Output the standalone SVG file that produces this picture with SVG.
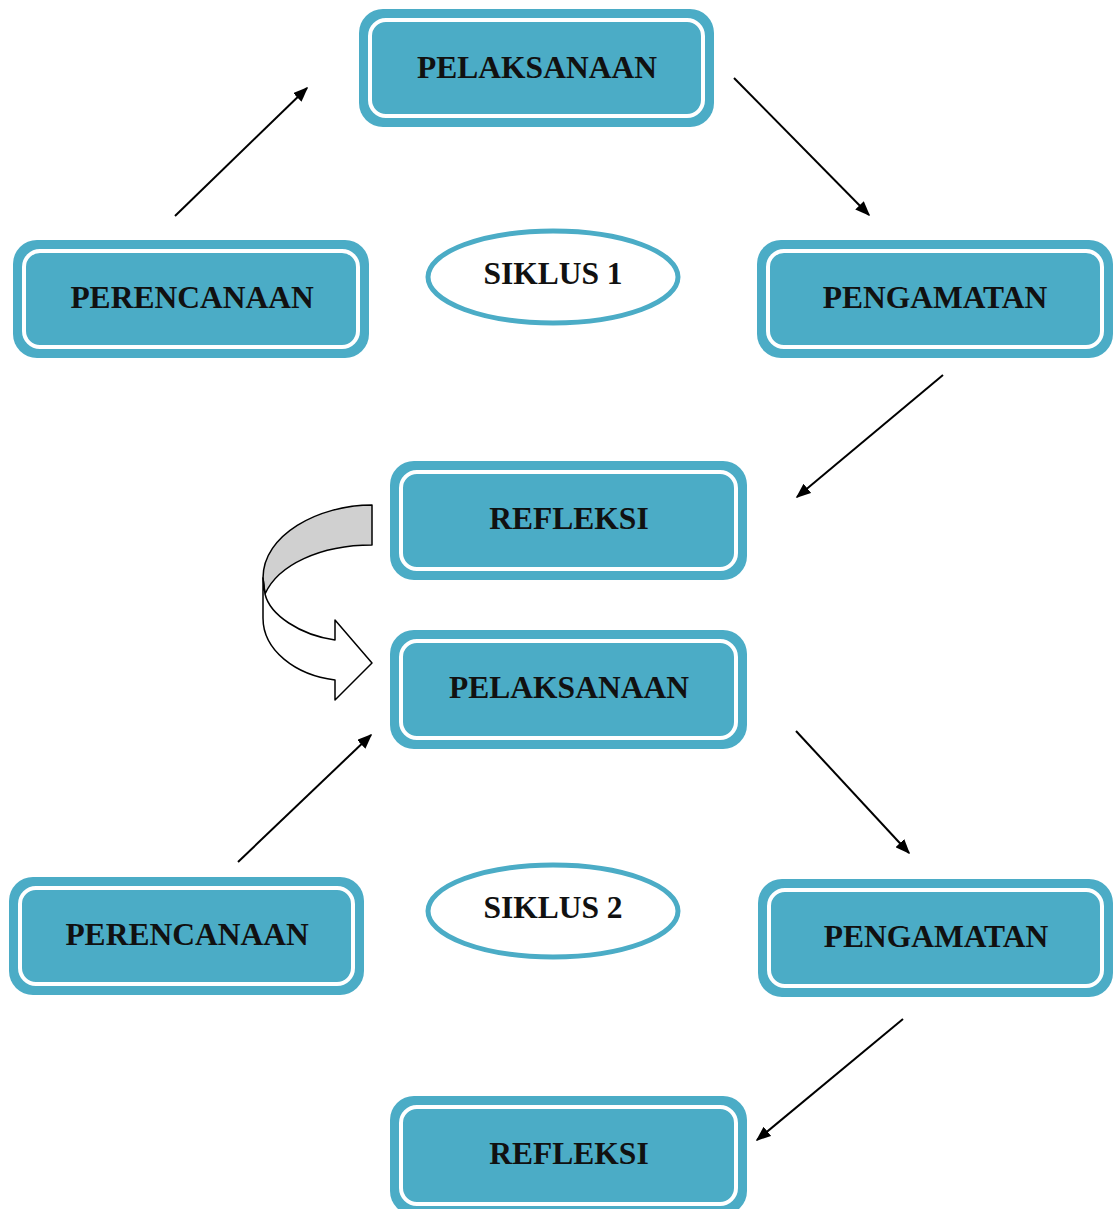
<svg xmlns="http://www.w3.org/2000/svg" width="1117" height="1209" viewBox="0 0 1117 1209">
<style>
.box{fill:#4BACC6;}
.inner{fill:none;stroke:#FFFFFF;stroke-width:4;}
.lbl{font-family:"Liberation Serif","Times New Roman",serif;font-weight:bold;font-size:31.5px;fill:#111111;text-anchor:middle;}
.ell{fill:#FFFFFF;stroke:#4BACC6;stroke-width:5;}
.con{stroke:#000;stroke-width:2;fill:none;marker-end:url(#ah);}
</style>
<defs>
<marker id="ah" viewBox="0 0 10 10" refX="9" refY="5" markerWidth="15" markerHeight="12" markerUnits="userSpaceOnUse" orient="auto" preserveAspectRatio="none">
<path d="M0,0 L10,5 L0,10 Z" fill="#000"/>
</marker>
</defs>
<rect width="1117" height="1209" fill="#FFFFFF"/>
<g id="pelaksanaan1"><rect class="box" x="359" y="9" width="355" height="118" rx="24"/><rect class="inner" x="370" y="20" width="333" height="96" rx="16"/><text class="lbl" x="537" y="78">PELAKSANAAN</text></g>
<g id="perencanaan1"><rect class="box" x="13" y="240" width="356" height="118" rx="24"/><rect class="inner" x="24" y="251" width="334" height="96" rx="16"/><text class="lbl" x="192" y="308">PERENCANAAN</text></g>
<g id="pengamatan1"><rect class="box" x="757" y="240" width="356" height="118" rx="24"/><rect class="inner" x="768" y="251" width="334" height="96" rx="16"/><text class="lbl" x="935" y="308">PENGAMATAN</text></g>
<g id="siklus1"><ellipse class="ell" cx="553" cy="277" rx="125" ry="46"/><text class="lbl" x="553" y="284">SIKLUS 1</text></g>
<g id="refleksi1"><rect class="box" x="390" y="461" width="357" height="119" rx="24"/><rect class="inner" x="401" y="472" width="335" height="97" rx="16"/><text class="lbl" x="569" y="529">REFLEKSI</text></g>
<g id="pelaksanaan2"><rect class="box" x="390" y="630" width="357" height="119" rx="24"/><rect class="inner" x="401" y="641" width="335" height="97" rx="16"/><text class="lbl" x="569" y="698">PELAKSANAAN</text></g>
<g id="perencanaan2"><rect class="box" x="9" y="877" width="355" height="118" rx="24"/><rect class="inner" x="20" y="888" width="333" height="96" rx="16"/><text class="lbl" x="187" y="945">PERENCANAAN</text></g>
<g id="siklus2"><ellipse class="ell" cx="553" cy="911" rx="125" ry="46"/><text class="lbl" x="553" y="918">SIKLUS 2</text></g>
<g id="pengamatan2"><rect class="box" x="758" y="879" width="355" height="118" rx="24"/><rect class="inner" x="769" y="890" width="333" height="96" rx="16"/><text class="lbl" x="936" y="947">PENGAMATAN</text></g>
<g id="refleksi2"><rect class="box" x="390" y="1096" width="357" height="119" rx="24"/><rect class="inner" x="401" y="1107" width="335" height="97" rx="16"/><text class="lbl" x="569" y="1164">REFLEKSI</text></g>
<g id="curved-arrow">
<path d="M372,505 C318,505 263,535 263,578 L265,594 C278,565 320,545 372,545 Z" fill="#D0D0D0" stroke="#000" stroke-width="1.5" stroke-linejoin="round"/>
<path d="M263,578 L263,618 C263,650 295,675 335,680 L335,700 L372,663 L335,620 L335,640 C300,635 270,615 265,594 Z" fill="#FFFFFF" stroke="#000" stroke-width="1.5" stroke-linejoin="round"/>
</g>
<g id="connectors">
<line class="con" x1="175" y1="216" x2="307" y2="88"/>
<line class="con" x1="734" y1="78" x2="869" y2="215"/>
<line class="con" x1="943" y1="375" x2="797" y2="497"/>
<line class="con" x1="238" y1="862" x2="371" y2="735"/>
<line class="con" x1="796" y1="731" x2="909" y2="853"/>
<line class="con" x1="903" y1="1019" x2="757" y2="1140"/>
</g>
</svg>
